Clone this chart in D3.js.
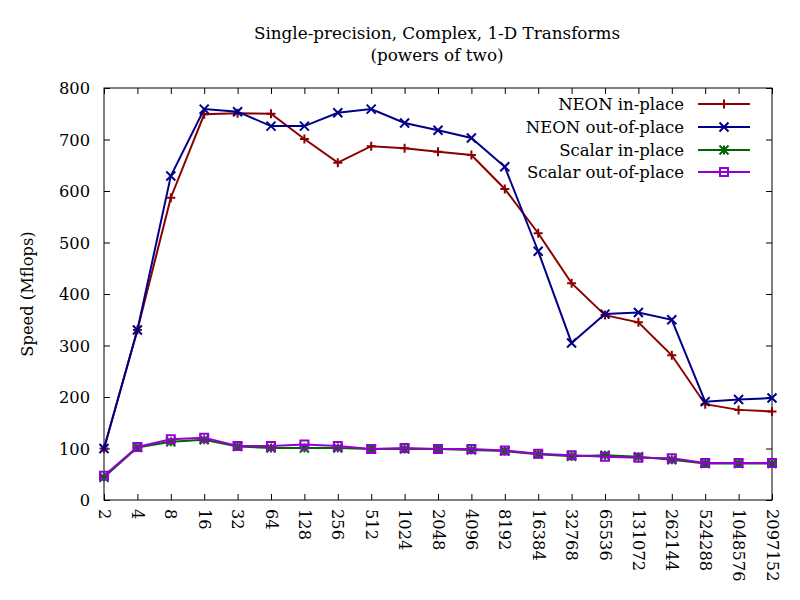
<!DOCTYPE html>
<html><head><meta charset="utf-8">
<script src="https://cdn.jsdelivr.net/npm/d3@7"></script>
<style>body{margin:0;background:#fff}svg{display:block}text{font-family:"DejaVu Serif",serif;fill:#000}</style>
</head><body><svg id="c" width="800" height="600"></svg>
<script>
const sizes = ["2","4","8","16","32","64","128","256","512","1024","2048","4096","8192","16384","32768","65536","131072","262144","524288","1048576","2097152"];
const neonIn = [100,330,587,749,751,750,701,655,687,683,676,670,604,518,421,359,345,281,186,175,172];
const neonOut = [100,330,629,759,754,726,726,752,759,732,718,703,647,483,305,361,364,350,191,195,198];
const scalarIn = [44,102,113,117,104,101,101,101,99,99,99,97,95,89,85,87,84,78,71,71,71];
const scalarOut = [47,103,118,121,105,105,108,105,99,101,99,99,96,90,87,84,82,81,72,72,72];
const yTicks = [0,100,200,300,400,500,600,700,800];
const seriesNames = ["NEON in-place","NEON out-of-place","Scalar in-place","Scalar out-of-place"];
const seriesColors = ["#8b0000","#00008b","#006400","#9400d3"];
const seriesMarks = ["plus","cross","star","square"];
const seriesData = [neonIn, neonOut, scalarIn, scalarOut];

const svg = d3.select("#c");
const L=104, R=772, T=88, B=500;
const x = d3.scalePoint().domain(sizes).range([L,R]);
const y = d3.scaleLinear().domain([0,800]).range([B,T]);

// title
svg.append("text").attr("x",437).attr("y",39).attr("text-anchor","middle").attr("font-size",16.8).text("Single-precision, Complex, 1-D Transforms");
svg.append("text").attr("x",437).attr("y",61).attr("text-anchor","middle").attr("font-size",16.8).text("(powers of two)");
svg.append("text").attr("transform","translate(33,294) rotate(-90)").attr("text-anchor","middle").attr("font-size",16.3).text("Speed (Mflops)");

// axes
const ax = svg.append("g");
const yL = ax.append("g").attr("transform",`translate(${L},0)`).call(d3.axisLeft(y).tickValues(yTicks).tickSize(-6).tickPadding(14));
const yR = ax.append("g").attr("transform",`translate(${R},0)`).call(d3.axisRight(y).tickValues(yTicks).tickSize(-6).tickFormat(""));
const xB = ax.append("g").attr("transform",`translate(0,${B})`).call(d3.axisBottom(x).tickSize(-6).tickPadding(0));
const xT = ax.append("g").attr("transform",`translate(0,${T})`).call(d3.axisTop(x).tickSize(-6).tickFormat(""));
ax.selectAll(".domain").remove();
ax.selectAll(".tick line").attr("stroke","#000").attr("stroke-width",1);
yL.selectAll("text").attr("font-size",16.3).attr("font-family","DejaVu Serif").attr("dy","0.35em");
xB.selectAll("text").attr("font-size",16.3).attr("font-family","DejaVu Serif")
  .attr("text-anchor","start").attr("dy",0).attr("y",0)
  .attr("transform","translate(-6,9) rotate(90)");
svg.append("rect").attr("x",L).attr("y",T).attr("width",R-L).attr("height",B-T).attr("fill","none").attr("stroke","#000").attr("stroke-width",1);

function marker(g, type, cx, cy, color){
  const s=4.5;
  const p = g.append("path").attr("fill","none").attr("stroke",color).attr("stroke-width",2);
  if(type==="plus") p.attr("d",`M${cx-s},${cy}H${cx+s}M${cx},${cy-s}V${cy+s}`);
  else if(type==="cross") p.attr("d",`M${cx-s},${cy-s}L${cx+s},${cy+s}M${cx-s},${cy+s}L${cx+s},${cy-s}`);
  else if(type==="star") p.attr("d",`M${cx-s},${cy}H${cx+s}M${cx},${cy-s}V${cy+s}M${cx-s},${cy-s}L${cx+s},${cy+s}M${cx-s},${cy+s}L${cx+s},${cy-s}`);
  else p.attr("d",`M${cx-4},${cy-4}h8v8h-8z`);
}

const line = d3.line().x((d,i)=>x(sizes[i])).y(d=>y(d));
const plot = svg.append("g");
seriesData.forEach((data,k)=>{
  const g = plot.append("g");
  g.append("path").datum(data).attr("d",line).attr("fill","none").attr("stroke",seriesColors[k]).attr("stroke-width",2);
  data.forEach((d,i)=>marker(g, seriesMarks[k], x(sizes[i]), y(d), seriesColors[k]));
});

// legend
const legY = [104,127,150,172];
seriesNames.forEach((n,k)=>{
  svg.append("text").attr("x",684).attr("y",legY[k]).attr("dy","0.35em").attr("text-anchor","end").attr("font-size",16.5).text(n);
  svg.append("line").attr("x1",698).attr("x2",750).attr("y1",legY[k]).attr("y2",legY[k]).attr("stroke",seriesColors[k]).attr("stroke-width",2);
  marker(svg, seriesMarks[k], 724, legY[k], seriesColors[k]);
});
</script></body></html>
